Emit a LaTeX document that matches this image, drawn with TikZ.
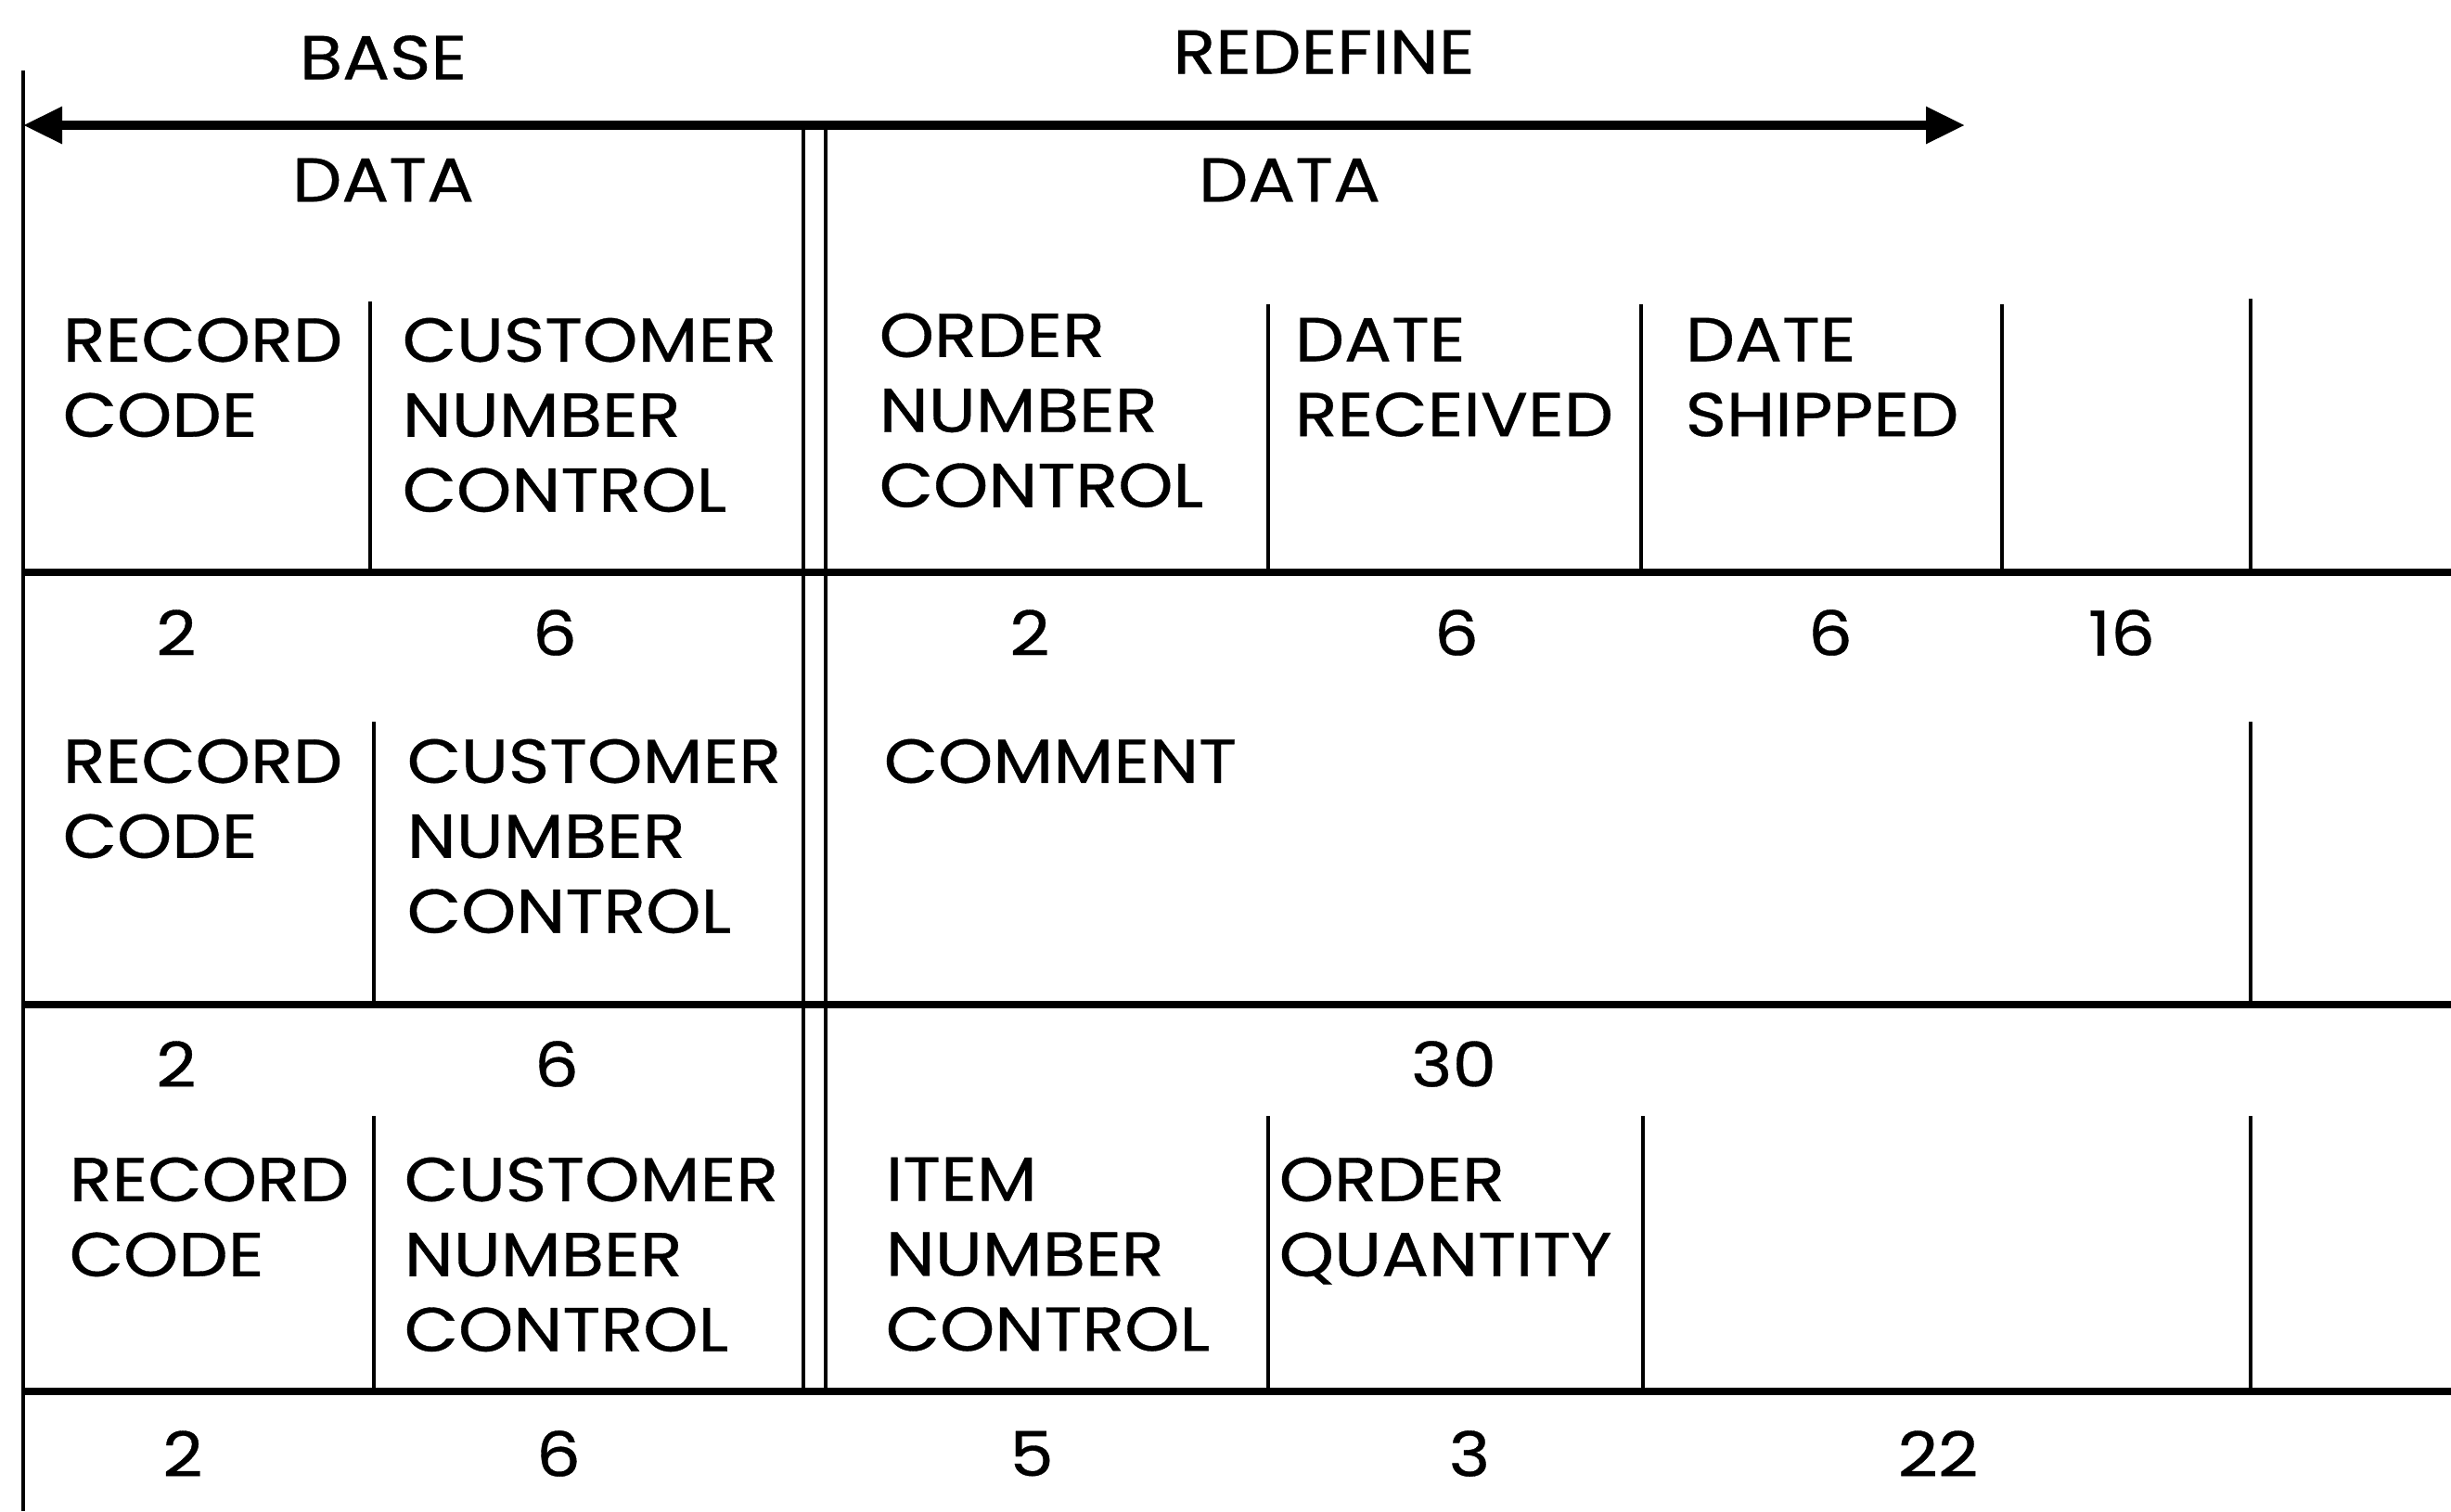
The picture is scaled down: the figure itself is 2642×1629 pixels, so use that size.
\documentclass[tikz,border=0pt]{standalone}
\usepackage{fontspec}
\setmainfont{Poppins}[FakeStretch=1.13,FakeBold=0.5]
\usetikzlibrary{arrows.meta}
\begin{document}
\begin{tikzpicture}[x=0.01cm,y=-0.01cm,
  every node/.style={inner sep=0pt,font=\fontsize{19}{23}\selectfont},
  lbl/.style={anchor=north west,align=left},
  num/.style={anchor=center},
  border/.style={line width=1.4pt},
  hline/.style={line width=2.2pt},
  divider/.style={line width=1.2pt},
  dim/.style={line width=2.6pt,{Triangle[length=0.42cm,width=0.38cm]}-{Triangle[length=0.42cm,width=0.38cm]}}]
\useasboundingbox (0,0) rectangle (2642,1629);
% coordinates
\coordinate (lt) at (25,76);
\coordinate (lb) at (25,1629);
\coordinate (al) at (25,135);
\coordinate (ar) at (2118,135);
% frame lines
\draw[border] (lt) -- (lb);
\draw[dim] (al) -- (ar);
\coordinate (d1t) at (866,135); \coordinate (d1b) at (866,1500);
\coordinate (d2t) at (890,135); \coordinate (d2b) at (890,1500);
\draw[border] (d1t) -- (d1b);
\draw[border] (d2t) -- (d2b);
\foreach \y [count=\i] in {617,1083,1500}{
  \coordinate (h\i l) at (25,\y); \coordinate (h\i r) at (2642,\y);
  \draw[hline] (h\i l) -- (h\i r);
}
% row 1 dividers
\foreach \x/\t [count=\i] in {399/325,1367/328,1769/328,2158/328,2426/322}{
  \coordinate (ra\i) at (\x,\t); \coordinate (rb\i) at (\x,617);
  \draw[divider] (ra\i) -- (rb\i);
}
% row 2 dividers
\foreach \x [count=\i] in {403,2426}{
  \coordinate (sa\i) at (\x,778); \coordinate (sb\i) at (\x,1083);
  \draw[divider] (sa\i) -- (sb\i);
}
% row 3 dividers
\foreach \x [count=\i] in {403,1367,1771,2426}{
  \coordinate (ta\i) at (\x,1203); \coordinate (tb\i) at (\x,1500);
  \draw[divider] (ta\i) -- (tb\i);
}
% headers
\node (base) at (413,62) {BASE};
\node (redef) at (1427,56) {REDEFINE};
\node (data1) at (413,194) {DATA};
\node (data2) at (1390,194) {DATA};
% row 1
\node[lbl] (rc1) at (67,342) {RECORD\\CODE};
\node[lbl] (cn1) at (433,342) {CUSTOMER\\NUMBER\\CONTROL};
\node[lbl] (on1) at (947,337) {ORDER\\NUMBER\\CONTROL};
\node[lbl] (dr1) at (1395,342) {DATE\\RECEIVED};
\node[lbl] (ds1) at (1816,342) {DATE\\SHIPPED};
\node[num] (n11) at (190,682) {2};
\node[num] (n12) at (598,682) {6};
\node[num] (n13) at (1110,682) {2};
\node[num] (n14) at (1570,682) {6};
\node[num] (n15) at (1973,682) {6};
\node[num] (n16) at (2287,682) {16};
% row 2
\node[lbl] (rc2) at (67,796) {RECORD\\CODE};
\node[lbl] (cn2) at (438,796) {CUSTOMER\\NUMBER\\CONTROL};
\node[lbl] (cm2) at (952,796) {COMMENT};
\node[num] (n21) at (190,1147) {2};
\node[num] (n22) at (600,1147) {6};
\node[num] (n23) at (1567,1147) {30};
% row 3
\node[lbl] (rc3) at (74,1247) {RECORD\\CODE};
\node[lbl] (cn3) at (435,1247) {CUSTOMER\\NUMBER\\CONTROL};
\node[lbl] (in3) at (954,1247) {ITEM\\NUMBER\\CONTROL};
\node[lbl] (oq3) at (1378,1247) {ORDER\\QUANTITY};
\node[num] (n31) at (197,1567) {2};
\node[num] (n32) at (602,1567) {6};
\node[num] (n33) at (1112,1567) {5};
\node[num] (n34) at (1584,1567) {3};
\node[num] (n35) at (2089,1567) {22};
\end{tikzpicture}
\end{document}
